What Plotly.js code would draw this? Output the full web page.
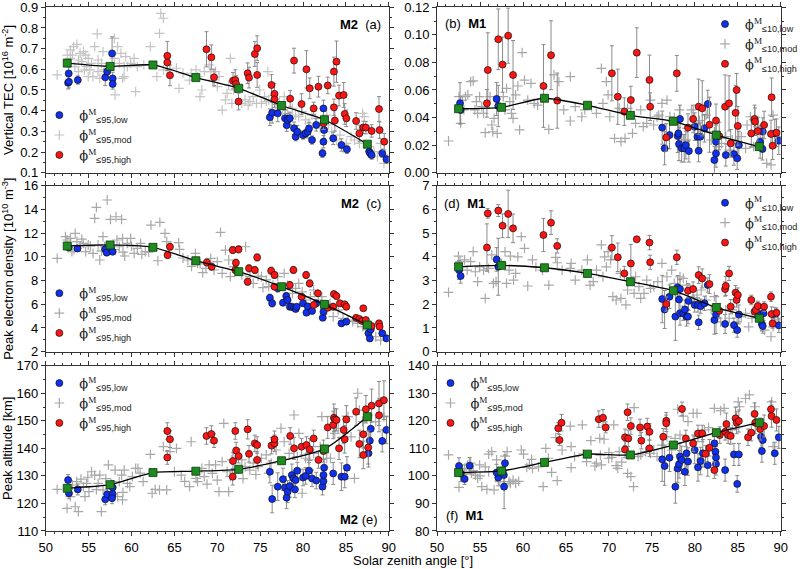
<!DOCTYPE html>
<html>
<head>
<meta charset="utf-8">
<script src="https://cdn.plot.ly/plotly-3.0.1.min.js"></script>
<style>
body { margin: 0; background: #fff; }
#chart { width: 803px; height: 569px; }
</style>
</head>
<body>
<div id="chart"></div>
<script>
// bin centres of the running mean (same for every panel)
var binX = [52.5, 57.5, 62.5, 67.5, 72.5, 77.5, 82.5, 87.5];

// ---------- (a) vertical TEC, M2 ----------
var meanA = [0.630, 0.614, 0.621, 0.560, 0.508, 0.425, 0.356, 0.238];
var lowA_x = [52.6,52.7,52.67,53.73,56.93,57.16,57.73,57.8,57.8,
  76.13,76.4,77.05,77.9,78.1,78.2,78.46,78.95,79.14,79.33,80.0,80.3,80.55,80.7,81.05,81.54,82.38,82.46,82.38,82.27,83.52,84.48,85.12,87.71,87.83,88.0,89.24,89.73];
var lowA_y = [0.535,0.54,0.58,0.548,0.561,0.589,0.677,0.556,0.529,
  0.368,0.39,0.387,0.363,0.33,0.355,0.363,0.315,0.274,0.298,0.282,0.29,0.298,0.314,0.258,0.331,0.411,0.306,0.25,0.194,0.266,0.234,0.213,0.202,0.194,0.185,0.194,0.165];
var lowA_err = [0.03,0.03,0.03,0.02,0.04,0.03,0.08,0.03,0.025,
  0.04,0.05,0.04,0.04,0.03,0.03,0.03,0.03,0.02,0.03,0.02,0.02,0.03,0.03,0.02,0.03,0.04,0.04,0.03,0.02,0.03,0.03,0.02,0.02,0.02,0.02,0.02,0.02];
var highA_x = [64.17,64.17,64.48,68.74,69.31,69.62,71.83,72.1,72.2,72.48,73.54,73.7,74.38,74.65,74.65,76.32,76.67,76.67,78.5,78.95,
  79.83,80.4,80.78,81.24,81.8,82.88,82.38,83.6,83.9,83.6,83.71,84.2,84.74,84.86,85.05,86.19,86.57,87.03,87.33,88.0,88.86,88.93,89.47];
var highA_y = [0.665,0.633,0.571,0.697,0.658,0.561,0.545,0.548,0.529,0.444,0.581,0.56,0.674,0.702,0.573,0.524,0.481,0.455,0.458,0.642,
  0.432,0.6,0.508,0.411,0.516,0.522,0.339,0.589,0.637,0.416,0.352,0.473,0.476,0.384,0.363,0.35,0.29,0.319,0.318,0.302,0.408,0.306,0.25];
var highA_err = [0.07,0.04,0.05,0.085,0.06,0.04,0.04,0.05,0.04,0.04,0.05,0.05,0.06,0.06,0.06,0.05,0.05,0.04,0.04,0.06,
  0.05,0.09,0.05,0.03,0.05,0.04,0.03,0.07,0.1,0.04,0.05,0.05,0.06,0.05,0.04,0.04,0.04,0.03,0.03,0.03,0.06,0.04,0.04];
var modA = [[51.33,0.573],[52.5,0.669],[52.86,0.694],[53.24,0.71],[53.62,0.721],[54.0,0.677],[54.2,0.637],[54.4,0.686],[54.65,0.669],[54.95,0.653],
  [55.33,0.629],[55.7,0.71],[56.0,0.771],[56.1,0.645],[56.5,0.629],[56.67,0.686],[54.5,0.597],[54.95,0.565],[55.5,0.565],[53.4,0.613],
  [53.8,0.589],[58.0,0.75],[58.0,0.653],[58.38,0.71],[58.57,0.629],[58.76,0.677],[58.95,0.556],[59.14,0.565],[58.08,0.476],[59.33,0.661],
  [59.52,0.613],[59.9,0.629],[60.29,0.653],[60.67,0.613],[60.48,0.492],[61.43,0.621],[62.19,0.71],[63.41,0.871],[63.71,0.847],[63.26,0.774],
  [62.95,0.565],[63.71,0.597],[65.24,0.605],[65.54,0.508],[66.0,0.581],[66.76,0.548],[66.95,0.581],[67.52,0.597],[67.7,0.565],[67.98,0.468],
  [68.2,0.5],[68.48,0.589],[69.05,0.621],[69.24,0.589],[69.43,0.548],[69.8,0.589],[70.0,0.516],[70.2,0.565],[70.57,0.403],[70.95,0.452],
  [71.14,0.484],[71.33,0.524],[71.52,0.653],[71.7,0.435],[71.9,0.5],[72.86,0.435],[73.24,0.452],[73.6,0.427],[73.8,0.444],[74.19,0.468],
  [74.57,0.435],[74.95,0.5],[75.14,0.435],[75.52,0.468],[75.71,0.444],[75.9,0.589],[76.0,0.452],[76.86,0.403],[77.24,0.444],[77.6,0.403],
  [77.8,0.468],[78.2,0.387],[78.76,0.411],[79.14,0.379],[79.5,0.371],[79.9,0.395],[80.3,0.355],[80.67,0.339],[81.05,0.379],[81.43,0.363],
  [82.0,0.315],[82.76,0.379],[82.95,0.331],[83.33,0.298],[83.9,0.258],[84.3,0.282],[84.67,0.218],[85.05,0.242],[85.6,0.274],[86.0,0.258],
  [86.57,0.242],[86.95,0.387],[87.14,0.371],[87.71,0.226],[88.29,0.202],[88.67,0.177],[89.05,0.242],[89.43,0.145],[52.86,0.653],[53.1,0.669],
  [53.8,0.645],[54.76,0.613],[55.14,0.597],[56.1,0.589],[56.3,0.556],[56.8,0.597],[59.14,0.613]];

// ---------- (b) vertical TEC, M1 ----------
var meanB = [0.0464, 0.0474, 0.0540, 0.0489, 0.0416, 0.0373, 0.0273, 0.0189];
var lowB_x = [52.67,52.74,56.93,57.12,
  76.2,76.48,77.05,78.0,78.08,78.27,78.15,78.46,78.76,78.95,79.3,79.98,80.3,80.44,80.63,81.12,81.5,82.27,82.46,82.46,
  83.6,84.55,84.93,85.12,87.6,87.87,87.9,89.3,89.77];
var lowB_y = [0.0503,0.0455,0.0535,0.0484,
  0.0327,0.0177,0.0273,0.0266,0.0285,0.039,0.0208,0.0177,0.0177,0.02,0.0157,0.0334,0.0261,0.0159,0.0261,0.0322,0.0498,0.0092,0.014,0.0225,
  0.0128,0.0135,0.0104,0.02,0.0225,0.0172,0.0298,0.0285,0.0232];
var lowB_err = [0.015,0.01,0.012,0.015,
  0.012,0.012,0.01,0.012,0.01,0.01,0.012,0.01,0.01,0.01,0.008,0.01,0.01,0.008,0.01,0.01,0.01,0.01,0.01,0.012,
  0.008,0.008,0.008,0.01,0.012,0.008,0.01,0.01,0.01];
var highB_x = [55.8,55.9,57.12,57.62,58.27,58.84,62.38,63.26,63.98,
  70.34,71.03,71.79,72.55,73.24,74.72,74.8,76.67,77.9,79.2,79.8,80.44,80.86,81.7,82.46,82.84,
  83.52,83.98,84.17,84.74,84.86,85.0,86.57,86.95,87.0,87.33,88.06,88.86,88.93,89.05,89.5];
var highB_y = [0.0503,0.0745,0.0968,0.0784,0.0994,0.0709,0.0629,0.0852,0.0523,
  0.0721,0.0551,0.0443,0.0527,0.0871,0.0673,0.0479,0.0256,0.0721,0.0327,0.039,0.0479,0.0467,0.0348,0.0378,0.0266,
  0.0479,0.0503,0.0213,0.0434,0.06,0.0339,0.0285,0.039,0.037,0.0302,0.0346,0.0281,0.0547,0.0196,0.029];
var highB_err = [0.01,0.027,0.022,0.02,0.02,0.025,0.03,0.025,0.02,
  0.02,0.02,0.01,0.01,0.018,0.018,0.01,0.01,0.013,0.01,0.01,0.02,0.02,0.02,0.012,0.01,
  0.023,0.02,0.01,0.02,0.012,0.014,0.01,0.01,0.01,0.01,0.01,0.01,0.014,0.01,0.01];
var modB = [[51.33,0.023],[52.55,0.0552],[52.74,0.0358],[52.93,0.0527],[53.12,0.0455],[53.3,0.0552],[53.58,0.0564],[53.9,0.066],[54.2,0.0666],[54.4,0.0455],
  [54.57,0.0515],[54.72,0.043],[54.95,0.0552],[55.2,0.0479],[55.4,0.043],[55.6,0.029],[56.17,0.0552],[56.36,0.0346],[56.48,0.0297],[56.63,0.0394],
  [57.0,0.0285],[57.7,0.0552],[57.9,0.0455],[58.08,0.0612],[58.46,0.0515],[58.65,0.043],[58.84,0.0394],[59.14,0.0564],[59.4,0.0629],[59.6,0.031],
  [59.9,0.0871],[60.17,0.0672],[60.55,0.0527],[60.93,0.0648],[61.3,0.0503],[61.7,0.049],[63.0,0.0314],[63.6,0.0709],[64.17,0.066],[64.74,0.0455],
  [65.5,0.0697],[65.5,0.0375],[66.08,0.0479],[66.84,0.0406],[67.2,0.0455],[67.98,0.0479],[68.55,0.043],[69.12,0.0757],[69.3,0.0503],[69.7,0.066],
  [69.9,0.0564],[70.1,0.0406],[70.65,0.0249],[71.2,0.0467],[71.4,0.0225],[71.87,0.0249],[72.17,0.0467],[72.74,0.0285],[73.1,0.0358],[73.7,0.0455],
  [74.0,0.0334],[74.4,0.0358],[74.84,0.0527],[75.2,0.0346],[75.6,0.0406],[75.8,0.0418],[76.17,0.0503],[76.75,0.0527],[77.1,0.0406],[77.6,0.04],
  [78.2,0.0455],[78.65,0.0237],[79.1,0.0322],[79.6,0.0455],[80.1,0.0346],[80.55,0.0378],[81.12,0.0297],[81.3,0.0418],[81.9,0.0237],[82.27,0.0297],
  [82.76,0.0189],[83.1,0.0213],[83.6,0.0261],[84.0,0.0164],[84.36,0.0237],[84.93,0.0225],[85.4,0.0261],[85.9,0.0177],[86.08,0.0346],[86.46,0.0406],
  [86.84,0.0189],[87.33,0.0334],[88.36,0.0068],[88.86,0.0056],[89.1,0.0418],[89.6,0.0261]];

// ---------- (c) peak electron density, M2 ----------
var meanC = [10.91, 11.0, 10.8, 9.67, 8.75, 7.48, 5.99, 4.25];
var lowC_x = [52.67,53.7,56.93,57.1,57.6,57.8,
  76.13,76.4,77.66,77.05,78.04,78.2,78.46,78.7,78.95,79.14,79.26,80.0,80.4,80.55,81.05,81.54,82.3,82.38,84.48,85.05,
  87.63,87.79,87.9,89.24,89.73];
var lowC_y = [10.8,10.7,10.63,10.35,10.69,10.43,
  6.55,6.08,6.13,7.34,6.69,6.36,5.79,5.79,5.71,5.6,5.79,6.08,5.29,5.82,5.43,6.08,4.86,5.37,4.39,4.53,
  3.55,3.12,3.88,3.55,3.12];
var lowC_err = [0.2,0.2,0.25,0.2,0.2,0.2,
  0.3,0.3,0.25,0.3,0.3,0.25,0.25,0.2,0.2,0.2,0.2,0.25,0.2,0.2,0.2,0.25,0.2,0.25,0.25,0.2,
  0.25,0.2,0.2,0.2,0.2];
var highC_x = [64.48,64.2,68.78,69.35,71.8,72.48,72.17,72.1,73.54,73.7,74.38,74.65,
  76.28,76.67,76.67,78.46,78.88,79.83,80.36,80.78,81.24,81.73,82.88,83.52,83.6,83.9,84.3,84.86,85.05,
  86.19,86.57,87.03,86.88,87.33,88.0,88.86,88.93];
var highC_y = [10.85,10.15,9.53,9.17,10.57,10.63,9.5,8.89,7.9,9.03,8.89,9.95,
  8.83,8.47,7.48,7.62,8.89,6.64,8.47,7.76,5.94,6.92,5.71,5.79,6.86,6.69,6.08,5.99,5.79,
  4.86,4.76,5.66,4.59,4.67,4.16,4.39,4.11];
var highC_err = [0.3,0.3,0.3,0.3,0.3,0.3,0.3,0.3,0.3,0.3,0.3,0.3,
  0.3,0.3,0.25,0.3,0.3,0.25,0.3,0.3,0.25,0.25,0.25,0.25,0.25,0.25,0.25,0.25,0.25,
  0.2,0.2,0.2,0.2,0.2,0.2,0.25,0.2];
var modC = [[51.33,9.87],[52.29,11.7],[52.48,11.42],[52.86,11.56],[53.05,10.43],[53.43,11.98],[53.62,11.28],[54.0,10.85],[54.38,11.14],[54.65,10.43],
  [54.95,11.0],[55.5,10.29],[55.7,13.24],[55.9,14.17],[56.1,11.0],[56.29,9.73],[56.67,11.7],[56.86,10.85],[57.16,14.79],[57.54,13.16],
  [58.19,13.38],[58.84,13.16],[58.3,11.42],[58.57,10.85],[58.95,11.56],[59.2,10.07],[59.5,11.14],[59.9,11.56],[60.3,10.29],[60.67,10.72],
  [61.05,11.14],[61.6,10.43],[62.27,12.68],[63.3,12.9],[63.07,9.67],[63.9,11.98],[64.1,11.28],[65.5,11.2],[65.6,10.63],[66.57,9.73],
  [67.45,10.29],[67.7,9.45],[68.3,8.66],[68.67,9.03],[69.24,9.87],[69.62,8.89],[70.0,9.59],[70.38,12.06],[70.57,8.61],[70.95,10.57],
  [71.33,9.73],[71.52,8.33],[71.9,9.17],[72.86,8.47],[73.3,10.85],[73.8,8.33],[74.19,7.76],[74.76,8.38],[75.14,8.33],[75.33,7.4],
  [75.71,8.05],[76.0,7.48],[76.5,7.62],[77.05,8.33],[77.8,8.61],[78.2,7.62],[78.76,6.92],[79.14,7.34],[79.5,7.76],[79.9,7.05],
  [80.3,6.36],[80.86,6.64],[81.24,7.2],[81.8,6.36],[82.19,6.64],[82.76,5.51],[83.14,6.08],[83.52,4.95],[84.1,5.51],[84.67,4.81],
  [85.24,4.67],[85.8,4.53],[86.38,4.39],[86.95,4.11],[87.5,3.83],[88.48,3.26],[89.05,2.98],[89.43,3.4],[53.3,10.6],[54.2,11.5],
  [55.2,10.9],[56.5,10.5],[58.0,10.6],[59.0,10.4],[60.0,10.9],[61.2,10.2],[62.0,10.4],[66.0,9.9],[67.0,9.2],[68.0,9.4]];

// ---------- (d) peak electron density, M1 ----------
var meanD = [3.58, 3.64, 3.54, 3.30, 2.95, 2.57, 1.86, 1.41];
var lowD_x = [52.55,52.74,56.93,57.12,
  76.2,76.48,77.05,77.73,78.0,78.27,78.15,78.27,78.65,78.84,79.03,79.2,79.26,79.98,80.36,80.44,80.67,81.12,81.5,82.27,
  82.46,83.52,84.55,84.93,85.12,87.6,87.8,87.9,88.0,89.3,89.77];
var lowD_y = [3.44,3.19,3.89,3.58,
  2.22,1.78,2.32,1.48,2.71,2.64,2.2,1.62,1.62,1.78,1.48,1.48,2.14,1.97,1.97,1.24,1.92,2.04,2.81,1.34,
  1.57,1.17,1.12,0.91,1.57,1.57,1.17,1.08,1.62,1.57,1.11];
var lowD_err = [0.4,0.3,0.5,1.2,
  1.0,0.8,0.5,1.0,0.5,0.4,0.5,0.5,0.3,0.4,0.4,0.3,0.4,0.3,0.3,0.3,0.3,0.3,0.3,0.6,
  0.8,0.4,0.3,0.3,0.4,0.4,0.3,0.3,0.3,0.3,0.3];
var highD_x = [55.8,55.9,57.12,57.62,58.27,58.84,62.38,63.26,63.98,
  70.34,71.03,71.79,72.55,73.24,74.72,74.8,76.67,77.9,79.2,79.8,80.44,80.86,81.7,82.84,
  83.52,83.6,83.98,84.17,84.74,84.86,85.0,86.57,86.95,87.1,87.33,88.06,88.86,88.93,89.05,89.5];
var highD_y = [4.39,5.83,5.95,5.31,5.81,5.2,4.92,5.44,4.46,
  4.39,3.98,3.3,3.72,4.74,4.6,3.77,2.01,3.98,2.57,2.64,3.23,3.09,2.85,1.73,
  2.64,2.77,3.3,1.9,2.49,2.18,2.39,2.18,1.69,1.76,1.93,1.9,2.32,1.59,1.19,1.64];
var highD_err = [1.0,0.2,0.25,0.5,1.0,0.6,0.7,0.5,0.3,
  0.5,0.6,0.3,0.8,0.1,0.3,0.3,0.3,0.3,0.3,0.3,0.35,0.4,0.4,0.3,
  0.3,0.4,0.3,0.3,0.3,0.3,0.3,0.2,0.2,0.2,0.2,0.2,0.2,0.3,0.2,0.2];
var modD = [[51.33,2.5],[52.48,4.03],[52.67,3.8],[52.93,3.58],[53.2,3.87],[53.5,3.44],[53.9,3.8],[54.2,4.22],[54.46,3.37],[54.72,2.95],
  [54.95,3.58],[55.4,3.44],[55.6,2.25],[56.0,3.51],[56.36,4.08],[56.55,2.88],[56.86,2.95],[57.5,3.72],[57.9,4.22],[58.08,2.88],
  [58.38,3.44],[58.53,4.03],[58.9,3.02],[59.14,3.3],[59.4,4.0],[59.8,4.85],[60.17,4.36],[60.55,2.77],[61.1,3.87],[61.5,3.58],
  [62.27,3.44],[63.0,2.81],[63.8,3.98],[63.98,3.75],[64.55,3.44],[65.5,3.51],[65.6,3.72],[66.08,3.02],[66.84,3.44],[67.49,3.87],
  [67.8,2.81],[68.17,2.95],[68.55,3.44],[69.12,4.5],[69.3,3.16],[69.5,4.0],[69.7,3.58],[69.9,4.22],[70.2,3.87],[70.46,2.32],
  [70.84,2.18],[71.33,3.3],[71.4,2.25],[71.98,1.97],[72.17,2.6],[72.93,2.46],[73.1,3.16],[73.5,2.74],[73.7,2.25],[74.08,2.46],
  [74.4,3.02],[74.84,2.67],[75.22,2.74],[75.68,2.95],[76.17,3.72],[76.75,3.16],[77.3,3.44],[77.6,2.88],[78.27,3.16],[78.65,3.09],
  [79.03,2.81],[79.4,2.67],[79.8,2.11],[80.25,2.39],[80.74,2.6],[81.3,2.18],[81.9,1.76],[82.27,2.32],[82.65,1.41],[83.0,1.26],
  [83.6,1.76],[84.0,1.41],[84.36,1.76],[84.93,1.26],[85.4,1.48],[85.9,1.62],[86.27,1.05],[86.65,1.41],[87.2,1.69],[88.13,0.91],
  [88.86,0.63],[89.1,1.05],[89.7,1.34]];

// ---------- (e) peak altitude, M2 ----------
var meanE = [125.5, 126.8, 131.2, 131.7, 132.4, 135.5, 139.8, 151.5];
var lowE_x = [52.6,52.7,53.73,56.93,57.16,57.8,57.8,57.73,
  76.13,76.4,77.05,77.66,77.9,78.08,78.2,78.46,78.7,78.9,79.05,79.14,79.33,80.0,80.3,80.7,81.05,81.54,82.27,82.38,
  82.38,82.46,83.52,84.48,84.86,85.12,87.63,87.79,87.9,89.24,89.73];
var lowE_y = [128.5,123.7,125.1,121.5,123.3,125.8,123.4,121.9,
  131.5,121.6,126.1,128.8,125.8,122.1,124.3,126.3,130.3,129.1,125.1,128.5,131.9,129.4,130.0,131.9,129.1,128.3,126.1,128.1,
  130.3,133.0,130.9,129.7,129.7,133.0,138.2,142.8,147.1,142.7,146.7];
var lowE_err = [2,2,2,2,2,2.5,2,2,
  4,5,5,4,4,4,4,4,4,3,3,3,3,3,3,3,3,3,3,3,
  3,3,4,5,4,4,5,5,5,4,5];
var highE_x = [64.17,64.17,64.48,68.74,69.31,69.62,71.83,71.8,72.1,72.2,72.48,73.54,73.7,74.38,74.65,74.65,
  76.32,76.67,76.67,78.5,78.95,79.83,80.4,80.78,81.24,81.8,82.38,82.88,83.52,83.6,83.71,83.9,84.2,84.74,84.86,85.05,
  86.19,86.57,87.03,87.03,87.33,87.6,88.0,88.86,88.86,89.43];
var highE_y = [146.3,136.7,143.3,144.5,145.2,142.8,135.4,129.7,146.3,139.2,137.2,146.9,138.0,141.8,141.2,135.8,
  141.0,141.8,143.3,144.5,140.0,140.6,141.2,139.6,143.6,135.8,139.0,147.6,148.5,151.1,150.5,150.3,140.0,146.7,143.3,150.5,
  153.3,141.6,137.6,145.1,154.2,140.3,155.5,152.0,156.3,157.5];
var highE_err = [3,2.5,3,3,3,2.5,3,3,3,3,2.5,3.5,3,3,3,3,
  3,3,3,3,4,3,3,4,3,3,4,4,5,5,4,4,4,5,5,5,
  5,5,5,5,5,6,6,6,8,7];
var modE = [[51.33,125.1],[52.48,118.2],[52.86,122.5],[53.1,126.7],[53.43,118.8],[53.8,117.0],[53.6,127.9],[54.1,128.8],[54.38,126.1],[54.57,122.5],
  [54.76,127.3],[55.03,124.3],[55.33,131.5],[55.7,130.3],[56.1,127.3],[56.3,130.3],[56.48,117.0],[56.67,124.9],[57.3,134.0],[57.6,127.3],
  [58.08,132.1],[58.38,122.5],[58.57,127.9],[58.84,130.3],[58.95,121.3],[59.14,132.1],[59.52,127.3],[59.8,126.1],[60.1,129.7],[60.48,132.7],
  [60.74,132.7],[61.35,127.9],[62.2,137.8],[62.4,123.7],[62.76,125.1],[63.26,124.9],[63.71,140.6],[64.1,124.9],[64.48,138.8],[65.24,140.0],
  [65.8,130.3],[66.76,126.1],[66.95,142.4],[67.52,129.1],[67.7,127.9],[68.2,132.7],[68.48,129.7],[69.05,134.0],[69.43,130.9],[69.8,134.0],
  [70.2,124.3],[70.57,135.2],[70.76,149.1],[71.14,131.5],[71.33,124.3],[71.52,129.7],[71.7,135.8],[72.86,135.8],[73.24,133.4],[73.8,132.1],
  [74.19,134.6],[74.76,133.4],[75.14,136.4],[75.71,137.6],[76.28,134.6],[76.86,139.4],[77.43,147.3],[77.8,142.4],[78.38,138.2],[78.95,152.1],
  [79.33,137.0],[79.52,145.4],[79.9,123.7],[80.3,136.4],[80.67,135.8],[81.24,138.2],[82.0,140.6],[82.2,151.5],[82.76,136.4],[83.2,136.4],
  [83.7,145.4],[84.1,147.3],[84.67,143.6],[85.24,151.5],[85.6,144.2],[86.0,129.1],[86.38,160.0],[86.57,153.9],[86.95,149.7],[87.5,151.5],
  [88.48,149.7],[89.05,156.9],[89.43,151.5],[54.9,129.5],[55.9,125.0],[57.0,129.0],[59.0,124.0],[61.0,131.0],[65.0,131.5],[66.2,128.0],
  [68.8,127.0],[70.0,128.5],[72.0,131.0],[73.0,129.0],[74.5,130.5],[76.0,131.0]];

// ---------- (f) peak altitude, M1 ----------
var meanF = [101.2, 101.8, 104.9, 107.9, 107.6, 111.2, 115.7, 119.3];
var lowF_x = [52.55,52.74,53.2,53.8,57.12,56.93,57.8,57.9,57.77,
  76.2,76.48,77.05,77.73,78.0,78.15,78.27,78.46,78.84,79.03,79.2,79.98,80.36,80.67,80.93,81.5,82.27,82.4,82.46,82.46,
  83.52,84.55,85.12,84.93,87.7,87.9,87.8,89.3,89.77];
var lowF_y = [103.6,100.9,98.9,103.7,99.4,101.2,96.1,104.6,100.3,
  106.0,103.6,106.6,96.1,102.7,104.2,107.0,105.8,101.5,108.2,105.2,109.4,103.1,105.4,108.2,103.9,111.8,108.8,106.7,104.3,
  102.1,107.8,107.8,97.1,114.2,113.0,109.0,108.2,114.0];
var lowF_err = [3,3,2,3,3,3,8,3,3,
  8,7,5,6,5,5,5,5,5,5,5,5,5,5,5,4,4,4,4,4,
  4,4,4,3,4,4,4,4,4];
var highF_x = [64.1,64.25,64.48,68.82,69.31,69.62,71.87,71.87,72.17,72.25,72.55,73.62,73.77,74.46,74.72,74.72,
  76.32,76.67,76.67,78.5,78.95,79.8,80.36,80.86,81.24,81.7,82.27,82.9,83.52,83.67,83.87,84.17,84.74,84.86,85.12,
  86.19,86.57,86.95,87.03,87.6,88.06,88.86,88.93,89.5];
var highF_y = [117.3,113.0,119.3,120.6,121.1,117.6,114.0,109.6,123.1,113.6,118.1,117.6,112.8,117.9,116.0,110.0,
  114.2,120.0,119.1,124.3,113.6,111.8,115.4,115.4,108.0,110.2,102.1,114.8,116.0,118.8,114.8,114.5,120.9,119.3,119.9,
  114.0,115.7,122.5,119.3,117.0,118.1,124.2,121.7,120.3];
var highF_err = [2,2,3,3,3,2,3,3,3,3,3,3,3,3,3,3,
  3,3,3,2.5,3,3,3,3,3,3,3,3,3,4,3,3,4,4,4,
  3,3,4,4,4,4,3,4,4];
var modF = [[51.33,107.6],[52.55,95.8],[52.93,102.1],[53.2,102.7],[53.58,104.0],[53.9,104.6],[54.2,101.9],[54.46,100.3],[54.72,99.1],[54.95,104.0],
  [55.2,96.1],[55.6,103.3],[55.8,95.1],[56.0,107.9],[56.36,108.8],[56.63,94.9],[56.93,105.8],[57.3,97.9],[57.9,107.2],[58.15,108.8],
  [58.38,97.9],[58.53,97.3],[58.84,98.5],[59.14,97.3],[59.8,109.4],[60.06,107.9],[60.44,103.1],[60.74,104.0],[61.1,102.7],[61.8,103.3],
  [62.34,96.1],[62.65,110.0],[62.95,106.4],[63.33,101.3],[63.8,113.9],[63.98,98.3],[64.55,109.4],[65.5,118.1],[65.6,110.6],[65.6,103.0],
  [66.9,118.5],[67.4,105.2],[67.9,112.8],[68.36,103.6],[68.55,104.6],[68.93,113.6],[69.12,104.0],[69.43,113.3],[69.96,106.4],[70.34,106.7],
  [70.57,118.5],[70.84,103.7],[71.03,102.7],[71.2,108.8],[72.17,100.9],[72.55,99.7],[72.86,96.1],[72.93,124.8],[73.4,107.0],[73.7,107.6],
  [74.27,108.8],[74.84,108.2],[75.22,109.4],[75.6,107.0],[76.17,111.2],[76.75,114.2],[77.3,109.4],[77.7,113.6],[78.0,124.2],[78.27,114.8],
  [78.65,121.7],[79.2,119.7],[79.8,122.7],[80.25,122.7],[80.74,105.8],[81.12,116.7],[81.6,117.5],[82.27,124.5],[82.65,115.4],[83.0,123.7],
  [83.4,124.5],[84.36,116.7],[85.05,126.9],[85.2,125.1],[85.9,128.1],[86.34,129.4],[87.0,125.1],[88.93,126.9],[89.1,110.6],[53.0,100.5],
  [54.0,101.0],[55.0,100.0],[56.0,101.5],[59.5,98.0],[61.0,106.0],[66.0,107.0],[67.0,108.0],[69.0,107.5],[70.0,108.5],[71.5,105.0]];

// ---------- styling helpers ----------
var FONT = 'Liberation Sans, Arial, sans-serif';
var BLUE = '#1030f0', RED = '#ff1414', GREEN = '#1f8a1f', GREY = '#a8a8a8';

function phi(thr, cls) {
  return '<span style="font-family:DejaVu Serif">ϕ</span>' +
    '<span style="font-family:Liberation Serif"><sup>M</sup></span>' +
    '<sub>≤' + thr + ',' + cls + '</sub>';
}

var traces = [];

function addPanel(n, mod, lx, ly, le, hx, hy, he, mean, thr, greyCol) {
  var xa = 'x' + (n == 1 ? '' : n), ya = 'y' + (n == 1 ? '' : n);
  var leg = 'legend' + (n == 1 ? '' : n);
  traces.push({
    x: mod.map(function(p) { return p[0]; }),
    y: mod.map(function(p) { return p[1]; }),
    type: 'scatter', mode: 'markers', xaxis: xa, yaxis: ya,
    name: phi(thr, 'mod'), legend: leg, legendrank: 2,
    marker: { symbol: 'cross-thin', size: 7, color: greyCol, line: { color: greyCol, width: 1.2 } }
  });
  traces.push({
    x: lx, y: ly, type: 'scatter', mode: 'markers', xaxis: xa, yaxis: ya,
    name: phi(thr, 'low'), legend: leg, legendrank: 1,
    error_y: { type: 'data', array: le, color: '#8a8a8a', thickness: 1, width: 2 },
    marker: { symbol: 'circle', size: 7, color: BLUE, line: { color: '#101010', width: 0.7 } }
  });
  traces.push({
    x: hx, y: hy, type: 'scatter', mode: 'markers', xaxis: xa, yaxis: ya,
    name: phi(thr, 'high'), legend: leg, legendrank: 3,
    error_y: { type: 'data', array: he, color: '#8a8a8a', thickness: 1, width: 2 },
    marker: { symbol: 'circle', size: 7, color: RED, line: { color: '#101010', width: 0.7 } }
  });
  traces.push({
    x: binX, y: mean, type: 'scatter', mode: 'lines+markers', xaxis: xa, yaxis: ya,
    showlegend: false,
    line: { color: '#000', width: 1.3, shape: 'spline', smoothing: 0.6 },
    marker: { symbol: 'square', size: 8, color: GREEN, line: { color: '#0a3a0a', width: 0.8 } }
  });
}

addPanel(1, modA, lowA_x, lowA_y, lowA_err, highA_x, highA_y, highA_err, meanA, '95', '#c4c4c4');
addPanel(2, modB, lowB_x, lowB_y, lowB_err, highB_x, highB_y, highB_err, meanB, '10', GREY);
addPanel(3, modC, lowC_x, lowC_y, lowC_err, highC_x, highC_y, highC_err, meanC, '95', GREY);
addPanel(4, modD, lowD_x, lowD_y, lowD_err, highD_x, highD_y, highD_err, meanD, '10', GREY);
addPanel(5, modE, lowE_x, lowE_y, lowE_err, highE_x, highE_y, highE_err, meanE, '95', GREY);
addPanel(6, modF, lowF_x, lowF_y, lowF_err, highF_x, highF_y, highF_err, meanF, '95', GREY);

// panel geometry in paper coordinates
var colDom = [[0.0582, 0.494], [0.5554, 0.9921]];
var rowDom = [[0.6965, 0.9872], [0.3819, 0.6737], [0.0668, 0.3573]];
var yRanges = [[0.1, 0.9], [0, 0.12], [2, 16], [0, 7], [110, 170], [80, 140]];
var yDticks = [0.1, 0.02, 2, 1, 10, 10];
var yFormats = ['.1f', '.2f', 'd', 'd', 'd', 'd'];
var yTitles = ['Vertical TEC [10<sup>16</sup> m<sup>-2</sup>]', '',
  'Peak electron density [10<sup>10</sup> m<sup>-3</sup>]', '', 'Peak altitude [km]', ''];

// tiny pad so the end ticks survive floating point
function padRange(r) {
  var d = (r[1] - r[0]) * 1e-6;
  return [r[0] - d, r[1] + d];
}

var layout = {
  width: 803, height: 569,
  margin: { l: 0, r: 0, t: 0, b: 0 },
  paper_bgcolor: '#fff', plot_bgcolor: '#fff',
  font: { family: FONT, size: 13, color: '#000' },
  annotations: [],
  showlegend: true
};

function baseAxis(ticks, len, mlen) {
  return {
    ticks: ticks, ticklen: len, tickwidth: 1, tickcolor: '#333',
    mirror: 'allticks', showline: true, linecolor: '#333', linewidth: 1,
    showgrid: false, zeroline: false, ticklabeloverflow: 'allow',
    minor: { ticks: ticks, ticklen: mlen, tickcolor: '#333', tickwidth: 1 }
  };
}

for (var i = 0; i < 6; i++) {
  var n = i + 1;
  var col = i % 2, row = Math.floor(i / 2);
  var sfx = n == 1 ? '' : n;
  var yr = padRange(yRanges[i]);

  var xa = baseAxis('outside', 4, 2);
  xa.domain = colDom[col]; xa.anchor = 'y' + sfx;
  xa.range = [50, 90]; xa.dtick = 5; xa.tick0 = 50; xa.minor.dtick = 1;
  xa.showticklabels = row == 2;
  xa.tickfont = { size: 13, color: '#000' };
  layout['xaxis' + sfx] = xa;

  var ya = baseAxis('outside', 4, 2);
  ya.domain = rowDom[row]; ya.anchor = 'x' + sfx;
  ya.range = yr; ya.dtick = yDticks[i]; ya.tick0 = yRanges[i][0];
  ya.minor.dtick = yDticks[i] / 2;
  ya.tickformat = yFormats[i];
  ya.tickfont = { size: 13, color: '#000' };
  if (yTitles[i]) ya.title = { text: yTitles[i], font: { size: 13, color: '#000' }, standoff: 8 };
  layout['yaxis' + sfx] = ya;

  // inner half of the crossing ticks
  var xi = baseAxis('inside', 4, 2);
  xi.overlaying = 'x' + sfx; xi.anchor = 'y' + sfx;
  xi.range = [50, 90]; xi.dtick = 5; xi.tick0 = 50; xi.minor.dtick = 1;
  xi.showticklabels = false;
  layout['xaxis' + (n + 6)] = xi;

  var yi = baseAxis('inside', 4, 2);
  yi.overlaying = 'y' + sfx; yi.anchor = 'x' + sfx;
  yi.range = yr; yi.dtick = yDticks[i]; yi.tick0 = yRanges[i][0];
  yi.minor.dtick = yDticks[i] / 2;
  yi.showticklabels = false;
  layout['yaxis' + (n + 6)] = yi;
}

// legends
var legPos = [
  [0.05, 0.701, 'bottom'], [0.896, 0.984, 'top'],
  [0.05, 0.388, 'bottom'], [0.896, 0.670, 'top'],
  [0.05, 0.353, 'top'], [0.547, 0.353, 'top']
];
legPos.forEach(function(p, i) {
  layout['legend' + (i == 0 ? '' : i + 1)] = {
    x: p[0], y: p[1], xanchor: 'left', yanchor: p[2],
    bgcolor: 'rgba(0,0,0,0)', borderwidth: 0,
    font: { family: FONT, size: 13, color: '#222' },
    tracegroupgap: 0, itemwidth: 30
  };
});

// panel labels
function label(x, y, text, anchor) {
  layout.annotations.push({
    xref: 'paper', yref: 'paper', x: x / 803, y: 1 - y / 569,
    xanchor: anchor, yanchor: 'middle', showarrow: false,
    text: text, font: { family: FONT, size: 13, color: '#000' }
  });
}
label(391, 24, '<b>M2</b>  (a)', 'right');
label(452, 23, '(b)  <b>M1</b>', 'left');
label(391, 203, '<b>M2</b>  (c)', 'right');
label(451, 203, '(d)  <b>M1</b>', 'left');
label(388, 519, '<b>M2</b> (e)', 'right');
label(453, 515, '(f)  <b>M1</b>', 'left');
label(421, 560, 'Solar zenith angle [°]', 'center');

Plotly.newPlot('chart', traces, layout, { displayModeBar: false, staticPlot: true });
</script>
</body>
</html>
